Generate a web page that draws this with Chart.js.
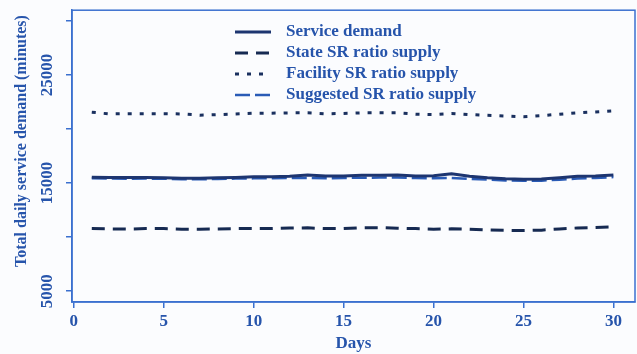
<!DOCTYPE html>
<html>
<head>
<meta charset="utf-8">
<script src="https://cdn.jsdelivr.net/npm/chart.js@4"></script>
<style>
  html, body { margin: 0; padding: 0; background: #fbfcfe; }
  #chart { display: block; background: #fbfcfe; }
</style>
</head>
<body>
<canvas id="chart" width="637" height="354"></canvas>
<script>
// Data
const days = [1, 2, 3, 4, 5, 6, 7, 8, 9, 10, 11, 12, 13, 14, 15, 16, 17, 18, 19, 20, 21, 22, 23, 24, 25, 26, 27, 28, 29, 30];

const serviceDemand = [15550, 15530, 15530, 15530, 15500, 15460, 15440, 15490, 15530, 15580, 15580, 15630, 15760, 15670, 15670,
  15720, 15720, 15740, 15670, 15690, 15860, 15630, 15490, 15400, 15350, 15370, 15490, 15630, 15670, 15750];

const stateSupply = [10790, 10760, 10750, 10790, 10790, 10740, 10730, 10760, 10790, 10790, 10790, 10840, 10860, 10790, 10790,
  10870, 10880, 10830, 10790, 10740, 10770, 10740, 10660, 10630, 10610, 10650, 10760, 10850, 10900, 10950];

const facilitySupply = [21560, 21400, 21430, 21430, 21430, 21400, 21290, 21340, 21400, 21470, 21470, 21500, 21500, 21410, 21450,
  21500, 21500, 21500, 21380, 21350, 21450, 21340, 21270, 21200, 21130, 21240, 21380, 21500, 21590, 21690];

const suggestedSupply = [15450, 15420, 15410, 15420, 15400, 15360, 15350, 15380, 15420, 15440, 15450, 15470, 15480, 15450, 15480,
  15500, 15510, 15520, 15470, 15450, 15480, 15400, 15330, 15250, 15210, 15230, 15320, 15420, 15480, 15560];

const seriesNames = ['Service demand', 'State SR ratio supply', 'Facility SR ratio supply', 'Suggested SR ratio supply'];

const xTicks = [0, 5, 10, 15, 20, 25, 30];
const yTicks = [5000, 10000, 15000, 20000, 25000, 30000];
const yTickLabels = [5000, 15000, 25000];

const textColor = '#2654ab';
const axisColor = '#3b70cf';
const fontFamily = '"Liberation Serif", "DejaVu Serif", serif';

function points(values) {
  return days.map((d, i) => ({ x: d, y: values[i] }));
}

// Frame around the plot region
const frameBox = {
  id: 'frameBox',
  afterDraw(chart) {
    const { ctx, chartArea } = chart;
    ctx.save();
    ctx.strokeStyle = axisColor;
    ctx.lineWidth = 1.5;
    ctx.strokeRect(chartArea.left, chartArea.top, chartArea.right - chartArea.left, chartArea.bottom - chartArea.top);
    ctx.restore();
  }
};

// Rotated y tick labels and y axis title
const yAxisText = {
  id: 'yAxisText',
  afterDraw(chart) {
    const { ctx } = chart;
    const yScale = chart.scales.y;
    ctx.save();
    ctx.fillStyle = textColor;
    ctx.textAlign = 'center';
    ctx.textBaseline = 'middle';
    ctx.font = 'bold 17px ' + fontFamily;
    yTickLabels.forEach(v => {
      ctx.save();
      ctx.translate(48, yScale.getPixelForValue(v));
      ctx.rotate(-Math.PI / 2);
      ctx.fillText(String(v), 0, 0);
      ctx.restore();
    });
    ctx.font = 'bold 16px ' + fontFamily;
    ctx.translate(22, 141);
    ctx.rotate(-Math.PI / 2);
    ctx.fillText('Total daily service demand (minutes)', 0, 0);
    ctx.restore();
  }
};

// Legend with line samples
const lineLegend = {
  id: 'lineLegend',
  afterDraw(chart) {
    const { ctx } = chart;
    const rowY = [32, 53, 74, 95];
    ctx.save();
    chart.data.datasets.forEach((ds, i) => {
      const y = rowY[i];
      ctx.strokeStyle = ds.borderColor;
      ctx.lineWidth = ds.borderWidth;
      ctx.setLineDash(ds.borderDash || []);
      ctx.beginPath();
      ctx.moveTo(235, y);
      ctx.lineTo(271, y);
      ctx.stroke();
      ctx.setLineDash([]);
      ctx.fillStyle = textColor;
      ctx.font = 'bold 17px ' + fontFamily;
      ctx.textAlign = 'left';
      ctx.textBaseline = 'middle';
      ctx.fillText(ds.label, 286, y);
    });
    ctx.restore();
  }
};

const ctx = document.getElementById('chart').getContext('2d');

new Chart(ctx, {
  type: 'line',
  data: {
    datasets: [
      {
        label: seriesNames[0],
        data: points(serviceDemand),
        borderColor: '#1d3570',
        borderWidth: 3,
        pointRadius: 0
      },
      {
        label: seriesNames[1],
        data: points(stateSupply),
        borderColor: '#162a52',
        borderWidth: 3,
        borderDash: [13, 8],
        pointRadius: 0
      },
      {
        label: seriesNames[2],
        data: points(facilitySupply),
        borderColor: '#1a305f',
        borderWidth: 3,
        borderDash: [4, 8],
        pointRadius: 0
      },
      {
        label: seriesNames[3],
        data: points(suggestedSupply),
        borderColor: '#2a5bb6',
        borderWidth: 2.5,
        borderDash: [15, 5],
        pointRadius: 0
      }
    ]
  },
  options: {
    responsive: false,
    animation: false,
    layout: { padding: { top: 10, right: 2, left: 0, bottom: 0 } },
    plugins: {
      legend: { display: false },
      tooltip: { enabled: false }
    },
    scales: {
      x: {
        type: 'linear',
        min: -0.1,
        max: 31.2,
        afterBuildTicks: scale => { scale.ticks = xTicks.map(v => ({ value: v })); },
        afterFit: scale => { scale.height = 52; },
        ticks: {
          color: textColor,
          font: { family: fontFamily, size: 17, weight: 'bold' },
          padding: 3,
          maxRotation: 0
        },
        grid: { drawOnChartArea: false, drawTicks: true, tickLength: 6, color: axisColor, lineWidth: 1.5 },
        border: { display: true, color: axisColor, width: 1.5 },
        title: {
          display: true,
          text: 'Days',
          color: textColor,
          font: { family: fontFamily, size: 17, weight: 'bold' },
          padding: { top: 0, bottom: 0 }
        }
      },
      y: {
        type: 'linear',
        min: 4000,
        max: 31000,
        afterBuildTicks: scale => { scale.ticks = yTicks.map(v => ({ value: v })); },
        afterFit: scale => { scale.width = 72; },
        ticks: { callback: () => '' },
        grid: { drawOnChartArea: false, drawTicks: true, tickLength: 6, color: axisColor, lineWidth: 1.5 },
        border: { display: true, color: axisColor, width: 1.5 }
      }
    }
  },
  plugins: [frameBox, yAxisText, lineLegend]
});
</script>
</body>
</html>
